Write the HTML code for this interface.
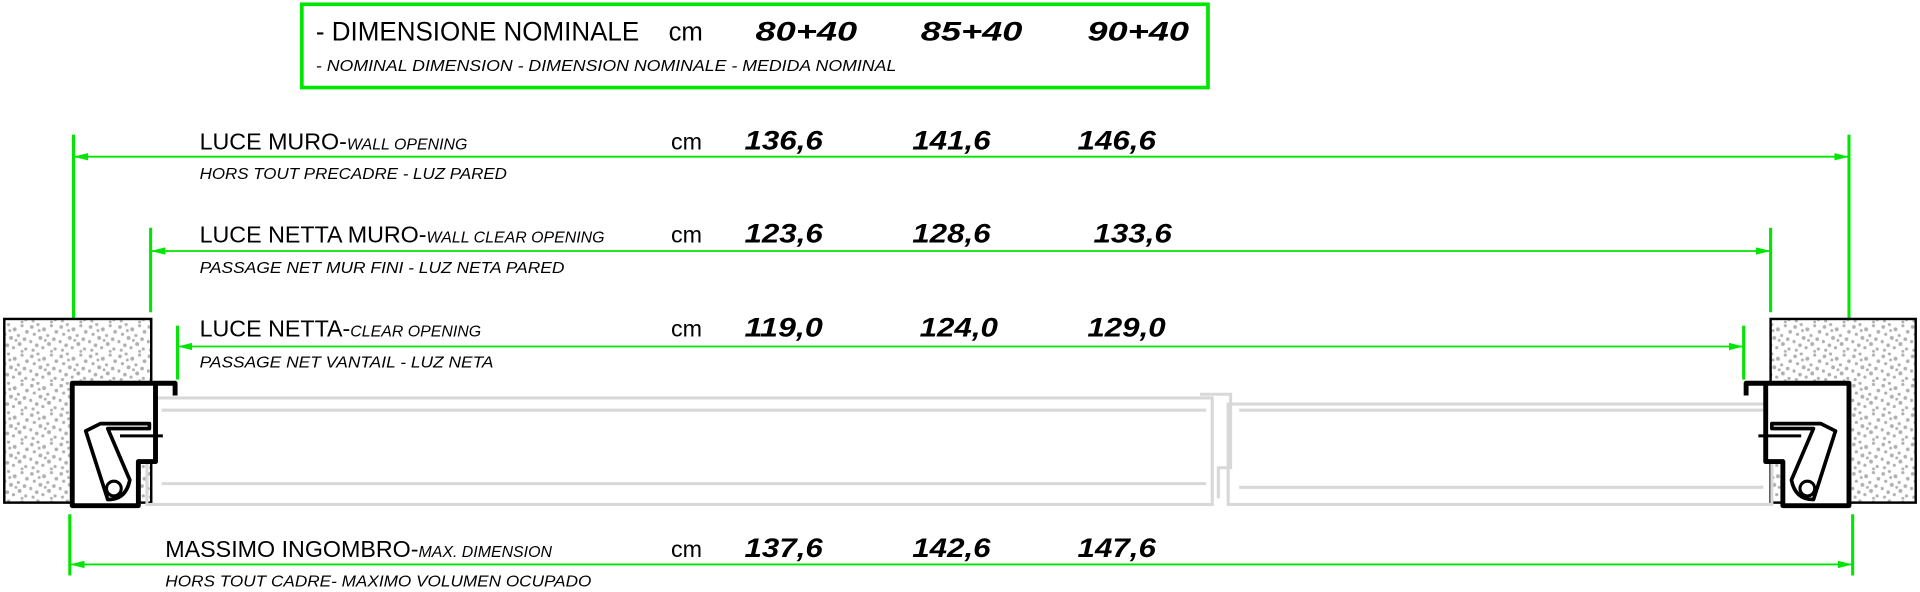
<!DOCTYPE html>
<html><head><meta charset="utf-8"><style>
html,body{margin:0;padding:0;background:#fff;}
svg{display:block}
text{font-family:"Liberation Sans",sans-serif;fill:#000}
.b{font-weight:bold;font-style:italic;font-size:22px}
.i{font-style:italic;font-size:13px}
.m{font-size:19px}
</style></head><body>
<svg width="1920" height="592" viewBox="0 0 1568 483.5" preserveAspectRatio="none" xmlns="http://www.w3.org/2000/svg">
<defs>
<pattern id="sp" width="24" height="24" patternUnits="userSpaceOnUse">
<rect width="24" height="24" fill="#fff"/>
<g fill="#b0b0b0">
<circle cx="2" cy="3" r="1.5"/><circle cx="7" cy="1" r="1.3"/><circle cx="12" cy="5" r="1.6"/><circle cx="18" cy="2" r="1.3"/><circle cx="22" cy="7" r="1.5"/>
<circle cx="4" cy="9" r="1.3"/><circle cx="9" cy="12" r="1.6"/><circle cx="15" cy="10" r="1.3"/><circle cx="20" cy="13" r="1.5"/><circle cx="1" cy="15" r="1.4"/>
<circle cx="6" cy="18" r="1.5"/><circle cx="11" cy="20" r="1.3"/><circle cx="16" cy="17" r="1.6"/><circle cx="21" cy="21" r="1.3"/><circle cx="3" cy="22" r="1.3"/>
<circle cx="13" cy="14" r="1.2"/><circle cx="8" cy="6" r="1.2"/><circle cx="18" cy="23" r="1.2"/>
</g></pattern>
<marker id="ar" markerWidth="12" markerHeight="6" refX="12" refY="3" orient="auto-start-reverse" markerUnits="userSpaceOnUse">
<path d="M0,0 L12,3 L0,6 z" fill="#00e600"/></marker>
</defs>

<rect x="246.5" y="3.5" width="740" height="68" fill="none" stroke="#00e600" stroke-width="3"/>
<text x="258" y="33" font-size="22" textLength="264" lengthAdjust="spacingAndGlyphs">- DIMENSIONE NOMINALE</text>
<text x="546" y="33" font-size="21">cm</text>
<text x="617" y="33" class="b" font-size="25" textLength="83" lengthAdjust="spacingAndGlyphs">80+40</text>
<text x="752" y="33" class="b" font-size="25" textLength="83" lengthAdjust="spacingAndGlyphs">85+40</text>
<text x="888" y="33" class="b" font-size="25" textLength="83" lengthAdjust="spacingAndGlyphs">90+40</text>
<text x="258" y="58" class="i" font-size="13" textLength="474" lengthAdjust="spacingAndGlyphs">- NOMINAL DIMENSION - DIMENSION NOMINALE - MEDIDA NOMINAL</text>

<g stroke="#00e600" stroke-width="2.5" fill="none">
<line x1="60" y1="110" x2="60" y2="305"/><line x1="1510" y1="110" x2="1510" y2="305"/>
<line x1="60" y1="128" x2="1510" y2="128" stroke-width="1.5" marker-start="url(#ar)" marker-end="url(#ar)"/>
<line x1="123" y1="186" x2="123" y2="255"/><line x1="1446" y1="186" x2="1446" y2="255"/>
<line x1="123" y1="205" x2="1446" y2="205" stroke-width="1.5" marker-start="url(#ar)" marker-end="url(#ar)"/>
<line x1="145" y1="266" x2="145" y2="310"/><line x1="1424" y1="266" x2="1424" y2="310"/>
<line x1="145" y1="283" x2="1424" y2="283" stroke-width="1.5" marker-start="url(#ar)" marker-end="url(#ar)"/>
<line x1="57" y1="420" x2="57" y2="470"/><line x1="1513" y1="420" x2="1513" y2="470"/>
<line x1="57" y1="461" x2="1513" y2="461" stroke-width="1.5" marker-start="url(#ar)" marker-end="url(#ar)"/>
</g>

<text x="163" y="122" class="m">LUCE MURO-<tspan class="i" font-size="14">WALL OPENING</tspan></text>
<text x="548" y="122" class="m" font-size="20">cm</text>
<text x="608" y="122" class="b" textLength="64" lengthAdjust="spacingAndGlyphs">136,6</text><text x="745" y="122" class="b" textLength="64" lengthAdjust="spacingAndGlyphs">141,6</text><text x="880" y="122" class="b" textLength="64" lengthAdjust="spacingAndGlyphs">146,6</text>
<text x="163" y="146" class="i" textLength="251" lengthAdjust="spacingAndGlyphs">HORS TOUT PRECADRE - LUZ PARED</text>

<text x="163" y="198" class="m">LUCE NETTA MURO-<tspan class="i" font-size="14">WALL CLEAR OPENING</tspan></text>
<text x="548" y="198" class="m" font-size="20">cm</text>
<text x="608" y="198" class="b" textLength="64" lengthAdjust="spacingAndGlyphs">123,6</text><text x="745" y="198" class="b" textLength="64" lengthAdjust="spacingAndGlyphs">128,6</text><text x="893" y="198" class="b" textLength="64" lengthAdjust="spacingAndGlyphs">133,6</text>
<text x="163" y="223" class="i" textLength="298" lengthAdjust="spacingAndGlyphs">PASSAGE NET MUR FINI - LUZ NETA PARED</text>

<text x="163" y="275" class="m">LUCE NETTA-<tspan class="i" font-size="14">CLEAR OPENING</tspan></text>
<text x="548" y="275" class="m" font-size="20">cm</text>
<text x="608" y="275" class="b" textLength="64" lengthAdjust="spacingAndGlyphs">119,0</text><text x="751" y="275" class="b" textLength="64" lengthAdjust="spacingAndGlyphs">124,0</text><text x="888" y="275" class="b" textLength="64" lengthAdjust="spacingAndGlyphs">129,0</text>
<text x="163" y="300" class="i" textLength="240" lengthAdjust="spacingAndGlyphs">PASSAGE NET VANTAIL - LUZ NETA</text>

<text x="135" y="455" class="m">MASSIMO INGOMBRO-<tspan class="i" font-size="14">MAX. DIMENSION</tspan></text>
<text x="548" y="455" class="m" font-size="20">cm</text>
<text x="608" y="455" class="b" textLength="64" lengthAdjust="spacingAndGlyphs">137,6</text><text x="745" y="455" class="b" textLength="64" lengthAdjust="spacingAndGlyphs">142,6</text><text x="880" y="455" class="b" textLength="64" lengthAdjust="spacingAndGlyphs">147,6</text>
<text x="135" y="479" class="i" textLength="348" lengthAdjust="spacingAndGlyphs">HORS TOUT CADRE- MAXIMO VOLUMEN OCUPADO</text>

<rect x="3.5" y="260.5" width="120" height="150" fill="url(#sp)" stroke="#000" stroke-width="2"/>
<rect x="1446" y="260.5" width="118.5" height="150" fill="url(#sp)" stroke="#000" stroke-width="2"/>

<g fill="none" stroke="#d8d8d8" stroke-width="2.5">
<rect x="120" y="325" width="870" height="87"/>
<line x1="132" y1="335" x2="985" y2="335"/>
<line x1="132" y1="395" x2="985" y2="395"/>
<rect x="1003" y="330" width="444" height="82"/>
<line x1="1012" y1="335" x2="1440" y2="335"/>
<line x1="1012" y1="398" x2="1440" y2="398"/>
<path d="M980,322 h25 v60 h-10 v25"/>
</g>

<g fill="#fff" stroke="#000" stroke-width="4" stroke-linejoin="round">
<path d="M143,323 V313 H59 V413 H113 V377 H127 V315"/>
<path d="M70,352 L82,346 H122 V350 H88 L106,392 Q103,408 88,408 Z" stroke-width="3"/>
<circle cx="93" cy="399" r="6" stroke-width="2.5"/>
<line x1="98" y1="356" x2="133" y2="356" stroke-width="2.5"/>
</g>
<g fill="#fff" stroke="#000" stroke-width="4" stroke-linejoin="round" transform="translate(1569,0) scale(-1,1)">
<path d="M143,323 V313 H59 V413 H113 V377 H127 V315"/>
<path d="M70,352 L82,346 H122 V350 H88 L106,392 Q103,408 88,408 Z" stroke-width="3"/>
<circle cx="93" cy="399" r="6" stroke-width="2.5"/>
<line x1="98" y1="356" x2="133" y2="356" stroke-width="2.5"/>
</g>
</svg>
</body></html>
